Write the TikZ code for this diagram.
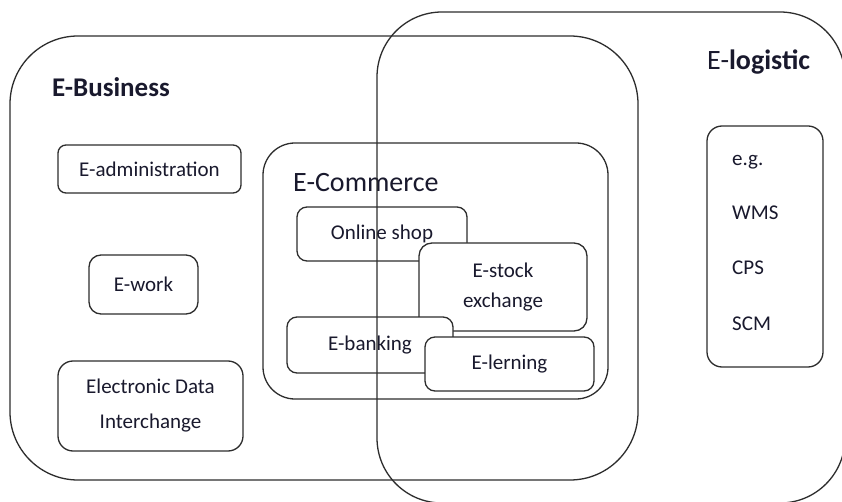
\documentclass[tikz,border=0pt]{standalone}
\usepackage{fontspec}
\setmainfont{Carlito}
\definecolor{ink}{RGB}{25,25,45}
\definecolor{edge}{RGB}{45,45,45}
\begin{document}
\begin{tikzpicture}[x=1pt,y=-1pt,
  box/.style={draw=edge,line width=1.3pt,fill=white,inner sep=0pt,align=center,text=ink,font=\fontsize{21}{30}\selectfont},
  big/.style={draw=edge,line width=1.3pt,inner sep=0pt},
  head/.style={anchor=west,inner sep=0pt,text=ink,font=\fontsize{28}{32}\selectfont},
  item/.style={anchor=west,inner sep=0pt,text=ink,font=\fontsize{21}{24}\selectfont}]
\clip (0,0) rectangle (842,502);
\fill[white] (0,0) rectangle (842,502);
% E-Business
\node[big,fill=white,rounded corners=68pt,minimum width=628pt,minimum height=444pt] (ebus) at (324,258) {};
\node[head,font=\fontsize{27}{32}\selectfont\bfseries] (ebuslabel) at (52,87) {E-Business};
\node[box,rounded corners=8pt,minimum width=183pt,minimum height=48pt] (eadmin) at (149.5,169) {E-administration};
\node[box,rounded corners=12pt,minimum width=109pt,minimum height=59pt] (ework) at (143.5,284.5) {E-work};
\node[box,rounded corners=15pt,minimum width=185pt,minimum height=90pt,font=\fontsize{21}{35}\selectfont] (edi) at (150.5,406) {Electronic Data\\Interchange};
% E-Commerce
\node[big,fill=white,rounded corners=32pt,minimum width=345pt,minimum height=256pt] (ecom) at (435.5,271) {};
\node[head] (ecomlabel) at (293,183) {E-Commerce};
\node[box,rounded corners=10pt,minimum width=170pt,minimum height=54pt] (shop) at (382,234) {Online shop};
\node[box,rounded corners=13pt,minimum width=168pt,minimum height=88pt] (stock) at (503,287) {E-stock\\exchange};
\node[box,rounded corners=10pt,minimum width=166pt,minimum height=56pt] (bank) at (370,345) {E-banking};
\node[box,rounded corners=10pt,minimum width=169pt,minimum height=54pt] (lern) at (509.5,364) {E-lerning};
% E-logistic
\node[big,rounded corners=65pt,minimum width=468pt,minimum height=491pt] (elog) at (611,257.5) {};
\node[head] (eloglabel) at (707,62) {E-\textbf{logistic}};
\node[big,rounded corners=15pt,minimum width=116pt,minimum height=241pt] (egbox) at (765,246.5) {};
\node[item] (eg) at (732,162) {e.g.};
\node[item] (wms) at (732,213) {WMS};
\node[item] (cps) at (732,268) {CPS};
\node[item] (scm) at (732,324) {SCM};
\end{tikzpicture}
\end{document}
